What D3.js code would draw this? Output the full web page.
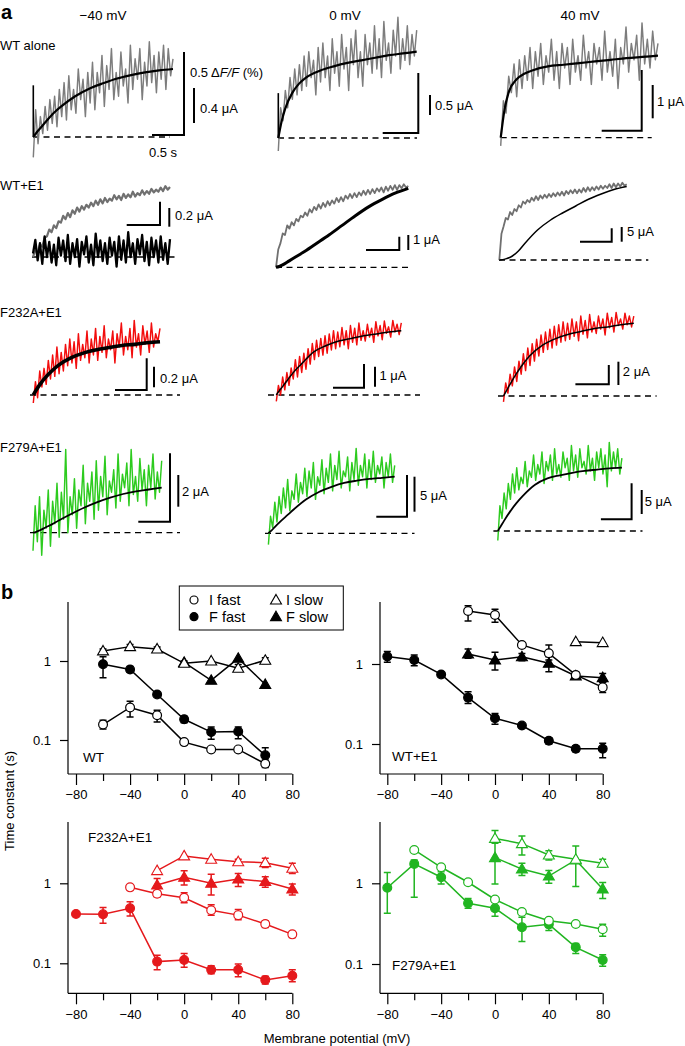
<!DOCTYPE html>
<html><head><meta charset="utf-8">
<script src="https://cdn.jsdelivr.net/npm/d3@7"></script>
<style>
body{margin:0;background:#fff}
text{font-family:'Liberation Sans',Arial,Helvetica,sans-serif;fill:#000}
</style>
</head><body>
<svg id="c" width="685" height="1046"></svg>
<script>
// ================= DATA =================
// ---- part a: traces (normalised: 0 = baseline, 100 = fit end) ----
const voltageTitles = ["−40 mV", "0 mV", "40 mV"];
const rowLabels = ["WT alone", "WT+E1", "F232A+E1", "F279A+E1"];
const fitT = [0,0.025,0.05,0.1,0.15,0.2,0.3,0.4,0.5,0.6,0.7,0.8,0.9,1];

const fitWTm40  = [0,7,13,25,36,45,60,71,79,86,91,95,98,100];
const fitWT0    = [0,20,34,52,63,70,78,83,87,90,93,96,98,100];
const fitWT40   = [0,35,55,71,78,82,87,89,91,93,95,97,98.5,100];
const slowE1_0  = [0,1,3,8,13,18,29,40,52,64,75,84,92,98];
const slowE1_40 = [0,0.5,1.5,5,12,22,40,53,63,72,81,88,94,98];
const fitF232m40 = [0,10,19,34,46,56,70,79,85,89,93,95,98,100];
const fitF232_0  = [0,7,13,26,38,48,67,77,84,88,92,95,98,100];
const fitF232_40 = [0,8,16,31,44,55,70,79,85,89,93,95,98,100];
const fitF279m40 = [0,2,5,12,19,27,42,56,68,78,86,92,96,100];
const fitF279_0  = [0,5,11,22,32,42,60,73,82,89,93,96,98,100];
const fitF279_40 = [0,8,16,31,44,55,73,83,88,92,95,97,99,100];

const grayWTm40 = [-30,40,-10,30,5,45, 10,55,20,60,15,70, 30,80,25,90,40,70, 35,100,55,85,30,95,
  50,110,40,95,65,120, 45,105,70,130,55,95, 60,125,75,100,50,135, 70,115,85,130,55,110,
  75,140,80,120,65,125, 85,135,70,130,90,115];
const grayWT0 = [-15,35,20,55,35,70, 45,80,50,85,55,95, 60,100,70,90,50,105, 65,110,70,95,55,115,
  75,100,60,120,80,105, 55,115,85,125,70,100, 60,120,85,110,75,130, 80,115,70,135,90,110,
  75,125,95,140,80,115, 90,130,85,120,95,125];
const grayWT40 = [-10,45,30,75,55,90, 50,95,60,100,70,110, 60,105,75,115,65,100, 80,120,70,105,60,115,
  85,110,65,120,80,100, 70,125,85,105,65,115, 90,110,70,130,80,105, 75,120,60,110,90,135,
  80,115,95,125,70,140, 90,120,85,130,95,115];
const grayE1m40 = [0,10,6,18,15,28, 30,40,36,46,42,52, 50,60,55,64,58,68, 63,72,66,74,69,76,
  72,79,74,82,76,84, 78,86,80,85,82,90, 84,89,83,92,86,91, 87,95,88,93,90,97,
  91,96,92,99,94,98, 95,101,96,103,98,102];
const blackE1m40 = [5,25,-5,20,-10,30,0,22,-8,18,-12,28,2,24,-6,32,-10,20,0,26,-14,22,4,30,-8,18,-12,34,0,24,
  -6,20,-10,28,2,22,-14,30,-4,24,-8,36,0,20,-10,26,4,32,-6,22,-12,28,0,24,-8,30,-4,20,-10,26];
const grayE1_0 = [0,22,30,42,40,52, 48,56,52,60,57,64, 62,68,64,72,68,75, 71,78,73,80,75,82,
  77,83,79,86,81,87, 82,89,85,91,86,92, 87,93,89,95,90,96, 91,97,92,98,94,99,
  93,100,95,101,96,102, 96,102,98,103,99,101];
const grayE1_40 = [0,35,45,56,54,64, 60,68,65,73,70,78, 75,80,77,83,79,85, 80,86,82,87,83,88,
  84,89,85,90,86,91, 86,92,88,93,89,94, 89,94,90,96,91,97, 92,97,93,98,94,99,
  95,99,96,101,96,102, 97,102,98,103,99,101];
const redF232m40 = [-15,25,-5,45,15,50, 20,65,30,75,35,90, 40,80,45,95,55,105, 60,100,50,115,65,95,
  70,120,60,105,75,125, 65,110,80,130,70,105, 85,120,60,115,90,135, 75,110,85,125,70,140,
  90,115,75,130,95,120, 80,135,90,115,100,125];
const redF232_0 = [-10,15,0,28,8,35, 15,42,25,55,28,60, 35,65,40,72,48,80, 55,85,60,88,62,92,
  65,95,70,100,72,98, 75,105,78,100,72,108, 82,104,78,112,85,100, 84,110,90,104,82,114,
  92,108,86,115,96,106, 90,116,98,110,94,112];
const redF232_40 = [-8,18,4,30,14,40, 20,48,30,58,35,66, 42,72,48,78,55,84, 60,88,64,92,66,96,
  70,98,74,102,76,100, 78,106,82,102,76,110, 85,104,80,112,88,102, 86,110,92,106,84,114,
  94,108,88,115,97,106, 92,114,98,110,95,110];
const greenF279m40 = [-40,60,-20,80,-50,50, 10,95,-30,70,20,110, -10,90,30,185,0,80, 40,120,10,95,60,150,
  20,110,70,135,30,160, 50,125,80,170,40,115, 90,140,55,175,70,130, 100,155,60,185,85,125,
  70,165,95,140,60,150, 100,175,75,135,90,160];
const greenF279_0 = [-20,30,10,55,20,65, 35,80,45,95,40,75, 60,105,55,90,70,115, 65,110,80,125,60,100,
  85,130,70,115,90,140, 75,120,95,145,80,110, 100,135,75,125,95,150, 85,120,100,140,80,130,
  95,145,90,120,105,135, 80,125,100,140,90,120];
const greenF279_40 = [-15,40,20,60,35,75, 50,90,60,100,65,85, 75,110,70,95,85,120, 80,105,90,125,75,110,
  95,120,80,130,90,105, 85,125,100,115,80,135, 95,120,85,130,100,110, 90,135,95,115,80,125,
  100,130,90,120,70,140, 95,125,100,130,90,115];
const stepMarks = [76, 52, null];
const scaleLabels = ["0.4 μA","0.5 μA","1 μA","0.2 μA","1 μA","5 μA","0.2 μA","1 μA","2 μA","2 μA","5 μA","5 μA"];

// ---- part b: time constants (s) vs membrane potential (mV) ----
const voltages = [-80,-60,-40,-20,0,20,40,60,80];
const xTickValues = [-80,-60,-40,-20,0,20,40,60,80];
const xTickLabels = ["−80","","−40","","0","","40","","80"];
const yTickValues = [0.1, 1];
const yTickLabels = ["0.1", "1"];
const seriesNames = ["I fast", "I slow", "F fast", "F slow"];
const panelNames = ["WT", "WT+E1", "F232A+E1", "F279A+E1"];

const wtIFast = [null,0.157,0.258,0.206,0.094,0.076,0.076,0.050,null];
const wtIFastErr = [null,[0.138,0.178],[0.196,0.31],[0.169,0.238],null,null,null,[0.045,0.056],null];
const wtISlow = [null,1.34,1.52,1.42,0.934,1.0,0.81,1.02,null];
const wtISlowErr = [null,[1.25,1.42],[1.42,1.62],[1.33,1.5],[0.87,1.0],null,[0.74,0.9],[0.93,1.1],null];
const wtFFast = [null,0.91,0.78,0.377,0.183,0.126,0.128,0.064,null];
const wtFFastErr = [null,[0.614,1.135],[0.72,0.85],null,[0.165,0.2],[0.102,0.146],[0.104,0.146],[0.052,0.080],null];
const wtFSlow = [null,null,null,null,0.96,0.57,1.08,0.505,null];
const wtFSlowErr = [null,null,null,null,null,null,null,null,null];

const e1IFast = [null,null,null,4.6,4.1,1.73,1.36,0.73,0.51];
const e1IFastErr = [null,null,null,[3.45,5.36],[3.32,4.82],null,[1.12,1.73],[0.66,0.8],[0.44,0.59]];
const e1ISlow = [null,null,null,null,null,null,null,1.9,1.85];
const e1ISlowErr = [null,null,null,null,null,null,null,null,null];
const e1FFast = [1.24,1.12,0.74,0.38,0.21,0.17,0.11,0.087,0.087];
const e1FFastErr = [[1.05,1.43],[0.95,1.3],null,[0.32,0.45],[0.176,0.24],null,[0.1,0.12],[0.08,0.095],[0.0675,0.102]];
const e1FSlow = [null,null,null,1.33,1.12,1.23,1.02,0.71,0.675];
const e1FSlowErr = [null,null,null,[1.18,1.54],[0.84,1.4],[1.1,1.35],[0.80,1.23],null,[0.59,0.76]];

const f232IFast = [null,null,0.89,0.74,0.66,0.46,0.40,0.31,0.23];
const f232IFastErr = [null,null,null,[0.68,0.80],[0.57,0.76],[0.40,0.54],[0.35,0.47],[0.28,0.34],[0.21,0.25]];
const f232ISlow = [null,null,null,1.44,2.2,2.0,1.86,1.81,1.54];
const f232ISlowErr = [null,null,null,null,null,null,[1.7,2.0],[1.58,2.05],[1.33,1.78]];
const f232FFast = [0.414,0.41,0.487,0.105,0.11,0.083,0.083,0.062,0.070];
const f232FFastErr = [null,[0.316,0.50],[0.39,0.59],[0.083,0.126],[0.089,0.133],[0.074,0.093],[0.068,0.098],[0.055,0.069],[0.059,0.083]];
const f232FSlow = [null,null,null,0.95,1.19,1.0,1.13,1.05,0.85];
const f232FSlowErr = [null,null,null,[0.75,1.15],[0.95,1.43],[0.715,1.3],[0.91,1.33],[0.89,1.21],[0.715,0.98]];

const f279IFast = [null,2.59,1.58,1.03,0.63,0.44,0.344,0.313,0.27];
const f279IFastErr = [null,null,null,null,null,null,null,null,[0.22,0.31]];
const f279ISlow = [null,null,null,null,3.6,3.1,2.24,1.98,1.77];
const f279ISlowErr = [null,null,null,null,[3.13,4.5],[2.24,3.86],[1.95,2.54],null,[1.58,1.98]];
const f279FFast = [0.88,1.74,1.19,0.565,0.49,0.285,0.31,0.161,0.112];
const f279FFastErr = [[0.425,1.36],[0.67,1.95],[0.98,1.39],[0.49,0.65],[0.39,0.59],[0.19,0.38],[0.26,0.35],[0.135,0.18],[0.094,0.13]];
const f279FSlow = [null,null,null,null,2.08,1.5,1.23,1.95,0.85];
const f279FSlowErr = [null,null,null,null,[0.98,3.28],[1.25,1.77],[1.0,1.44],[0.91,2.9],[0.65,1.02]];

// ================= DRAWING =================
const svg = d3.select("#c");
const GRAY = "#7d7d7d", GRAY2 = "#707070", RED_T = "#f20d0d", GREEN_T = "#2dcb1f";
const RED = "#e5191c", GREEN = "#21b521";

function txt(x, y, s, opt = {}) {
  return svg.append("text").attr("x", x).attr("y", y).attr("dominant-baseline", "central")
    .attr("font-size", opt.size || 13).attr("text-anchor", opt.anchor || "start")
    .attr("font-weight", opt.weight || "normal").text(s);
}

// panel letters
txt(1, 12, "a", {size: 20, weight: "bold"});
txt(1, 592, "b", {size: 20, weight: "bold"});

// column titles & row labels
const titleX = [103, 345, 580];
voltageTitles.forEach((t, i) => txt(titleX[i], 15, t, {size: 13.5, anchor: "middle"}));
const rowLabelY = [45, 185, 312, 447];
rowLabels.forEach((t, i) => txt(0, rowLabelY[i], t, {size: 13}));

// layout of trace panels (pixel positions only)
const tl = [
  {x0:33.3, x1:173,   yb:137,   yt:69,    d0:33,    d1:170},
  {x0:278.3,x1:416.7, yb:138,   yt:51.7,  d0:278,   d1:417},
  {x0:500.7,x1:658,   yb:137.7, yt:55.7,  d0:500.7, d1:651.7},
  {x0:33,   x1:170,   yb:257,   yt:188.3, d0:32,    d1:177},
  {x0:276,  x1:408.3, yb:267.3, yt:186.7, d0:276,   d1:410},
  {x0:499.3,x1:626.7, yb:260,   yt:185,   d0:499,   d1:648.3},
  {x0:33.3, x1:160,   yb:395,   yt:341.7, d0:30,    d1:180},
  {x0:276.3,x1:401.3, yb:395,   yt:330.7, d0:268,   d1:420},
  {x0:503.5,x1:633.8, yb:396,   yt:323.3, d0:498,   d1:656.6},
  {x0:33,   x1:161.7, yb:532.7, yt:487.7, d0:30,    d1:180},
  {x0:268.4,x1:394.7, yb:533.3, yt:476.7, d0:265,   d1:414.5},
  {x0:497.8,x1:621.9, yb:531,   yt:467.7, d0:493.4, d1:642.5}
];

// which series are drawn in which trace panel
const traceSeries = [
  [{v:grayWTm40, c:GRAY, noisy:true}, {v:fitWTm40, c:"#000", w:2.2}],
  [{v:grayWT0, c:GRAY, noisy:true}, {v:fitWT0, c:"#000", w:2.2}],
  [{v:grayWT40, c:GRAY, noisy:true}, {v:fitWT40, c:"#000", w:2.2}],
  [{v:grayE1m40, c:GRAY2, noisy:true, w:2.2}, {v:blackE1m40, c:"#000", noisy:true, w:2.3}],
  [{v:grayE1_0, c:GRAY2, noisy:true, w:1.8}, {v:slowE1_0, c:"#000", w:3}],
  [{v:grayE1_40, c:GRAY2, noisy:true, w:1.8}, {v:slowE1_40, c:"#000", w:1.5}],
  [{v:redF232m40, c:RED_T, noisy:true}, {v:fitF232m40, c:"#000", w:3.6}],
  [{v:redF232_0, c:RED_T, noisy:true}, {v:fitF232_0, c:"#000", w:1.5}],
  [{v:redF232_40, c:RED_T, noisy:true}, {v:fitF232_40, c:"#000", w:1.5}],
  [{v:greenF279m40, c:GREEN_T, noisy:true}, {v:fitF279m40, c:"#000", w:1.8}],
  [{v:greenF279_0, c:GREEN_T, noisy:true}, {v:fitF279_0, c:"#000", w:1.8}],
  [{v:greenF279_40, c:GREEN_T, noisy:true}, {v:fitF279_40, c:"#000", w:1.8}]
];

tl.forEach((p, k) => {
  const xs = d3.scaleLinear().domain([0, 1]).range([p.x0, p.x1]);
  const ys = d3.scaleLinear().domain([0, 100]).range([p.yb, p.yt]);
  const g = svg.append("g");
  g.append("line").attr("x1", p.d0).attr("x2", p.d1).attr("y1", ys(0)).attr("y2", ys(0))
    .attr("stroke", "#000").attr("stroke-width", 1.3).attr("stroke-dasharray", "6,4.5");
  traceSeries[k].forEach(s => {
    let pts;
    if (s.noisy) pts = s.v.map((v, i) => [xs(i / (s.v.length - 1)), ys(v)]);
    else pts = s.v.map((v, i) => [xs(fitT[i]), ys(v)]);
    const line = d3.line().curve(s.noisy ? d3.curveLinear : d3.curveMonotoneX);
    g.append("path").attr("d", line(pts)).attr("fill", "none").attr("stroke", s.c)
      .attr("stroke-width", s.w || 1.45).attr("stroke-linejoin", "round");
  });
  if (k < 3 && stepMarks[k] != null) {
    g.append("line").attr("x1", xs(0)).attr("x2", xs(0)).attr("y1", ys(0)).attr("y2", ys(stepMarks[k]))
      .attr("stroke", "#000").attr("stroke-width", 1.6);
  }
});

// scale bars (L-shape + current bar) – positions only
const bars = [
  {lx:184,   ly0:52,    ly1:135,   hx0:152,   cx:194,   cy0:88,    cy1:123,   tx:200,   ty:108},
  {lx:418.3, ly0:73,    ly1:133,   hx0:382.7, cx:430,   cy0:95,    cy1:115,   tx:435,   ty:105},
  {lx:641.7, ly0:70,    ly1:130.7, hx0:601.7, cx:652.7, cy0:85,    cy1:118.3, tx:657,   ty:101.7},
  {lx:160,   ly0:201.7, ly1:225,   hx0:126.7, cx:169.3, cy0:208,   cy1:226.7, tx:175,   ty:215},
  {lx:399.3, ly0:236.7, ly1:250,   hx0:366,   cx:408.3, cy0:235,   cy1:250,   tx:413,   ty:239},
  {lx:611.7, ly0:228.3, ly1:241.7, hx0:580,   cx:621.7, cy0:227,   cy1:241.7, tx:627,   ty:231.7},
  {lx:146.7, ly0:358.3, ly1:390,   hx0:115,   cx:154,   cy0:366.7, cy1:387.3, tx:160,   ty:378.3},
  {lx:364,   ly0:364,   ly1:387.7, hx0:333,   cx:375,   cy0:366.7, cy1:386.7, tx:379.4, ty:375},
  {lx:608.8, ly0:365,   ly1:384.3, hx0:575.4, cx:618.4, cy0:361.7, cy1:385,   tx:622.8, ty:371},
  {lx:170,   ly0:453.3, ly1:521.7, hx0:138.3, cx:178.3, cy0:475,   cy1:506.7, tx:182,   ty:491.7},
  {lx:407,   ly0:475,   ly1:516.7, hx0:376.3, cx:414.5, cy0:476.7, cy1:511.7, tx:420,   ty:495},
  {lx:631.6, ly0:483.3, ly1:519.3, hx0:600.9, cx:641.7, cy0:490,   cy1:514,   tx:644.7, ty:501.7}
];
bars.forEach((b, i) => {
  svg.append("path").attr("d", `M${b.hx0},${b.ly1}H${b.lx}V${b.ly0}`).attr("fill", "none")
    .attr("stroke", "#000").attr("stroke-width", 2);
  svg.append("line").attr("x1", b.cx).attr("x2", b.cx).attr("y1", b.cy0).attr("y2", b.cy1)
    .attr("stroke", "#000").attr("stroke-width", 2);
  txt(b.tx, b.ty, scaleLabels[i], {size: 13});
});
const fl = svg.append("text").attr("x", 190).attr("y", 72).attr("dominant-baseline", "central").attr("font-size", 13);
fl.append("tspan").text("0.5 Δ");
fl.append("tspan").attr("font-style", "italic").text("F/F");
fl.append("tspan").text(" (%)");
txt(163, 152, "0.5 s", {size: 13, anchor: "middle"});

// ---------------- part b ----------------
const panelsB = [
  {ax:68,  x0:76,    x1:292.3, yTop:602, yBot:774,   y1:661,   y01:740,   lx:83,  ly:757, color:"#000",
   s:[[wtIFast,wtIFastErr],[wtISlow,wtISlowErr],[wtFFast,wtFFastErr],[wtFSlow,wtFSlowErr]]},
  {ax:380, x0:387.3, x1:602.7, yTop:602, yBot:774,   y1:664,   y01:744,   lx:392, ly:756, color:"#000",
   s:[[e1IFast,e1IFastErr],[e1ISlow,e1ISlowErr],[e1FFast,e1FFastErr],[e1FSlow,e1FSlowErr]]},
  {ax:68,  x0:76,    x1:292.3, yTop:822, yBot:993.3, y1:883.3, y01:963.3, lx:88,  ly:837, color:RED,
   s:[[f232IFast,f232IFastErr],[f232ISlow,f232ISlowErr],[f232FFast,f232FFastErr],[f232FSlow,f232FSlowErr]]},
  {ax:380, x0:387.3, x1:602.7, yTop:822, yBot:993.3, y1:883.3, y01:964,   lx:392, ly:965, color:GREEN,
   s:[[f279IFast,f279IFastErr],[f279ISlow,f279ISlowErr],[f279FFast,f279FFastErr],[f279FSlow,f279FSlowErr]]}
];
const sStyle = [{shape:"circle", filled:false},{shape:"triangle", filled:false},{shape:"circle", filled:true},{shape:"triangle", filled:true}];
const triPath = d3.symbol().type(d3.symbolTriangle).size(52)();

function marker(g, x, y, st, color, r) {
  if (st.shape === "circle") {
    g.append("circle").attr("cx", x).attr("cy", y).attr("r", r || 4.4)
      .attr("fill", st.filled ? color : "#fff").attr("stroke", color).attr("stroke-width", 1.2);
  } else {
    g.append("path").attr("d", triPath).attr("transform", `translate(${x},${y + 0.8})`)
      .attr("fill", st.filled ? color : "#fff").attr("stroke", color).attr("stroke-width", 1.1);
  }
}

panelsB.forEach((p, pi) => {
  const x = d3.scaleLinear().domain([-80, 80]).range([p.x0, p.x1]);
  const y = d3.scaleLog().domain([0.1, 1]).range([p.y01, p.y1]);
  const g = svg.append("g");
  g.append("line").attr("x1", p.ax).attr("x2", p.ax).attr("y1", p.yTop).attr("y2", p.yBot).attr("stroke", "#000").attr("stroke-width", 1.2);
  g.append("line").attr("x1", p.ax).attr("x2", p.x1).attr("y1", p.yBot).attr("y2", p.yBot).attr("stroke", "#000").attr("stroke-width", 1.2);
  const xa = g.append("g").attr("transform", `translate(0,${p.yBot})`)
    .call(d3.axisBottom(x).tickValues(xTickValues).tickFormat((d, i) => xTickLabels[i]).tickSizeOuter(0).tickSize(11));
  xa.select(".domain").remove();
  xa.selectAll(".tick line").attr("stroke-width", 1.2).attr("y2", (d, i) => xTickLabels[i] ? 11 : 7);
  xa.selectAll(".tick text").attr("y", 16).attr("font-size", 13).attr("font-family", null).attr("fill", "#000");
  const ya = g.append("g").attr("transform", `translate(${p.ax},0)`)
    .call(d3.axisLeft(y).tickValues(yTickValues).tickFormat((d, i) => yTickLabels[i]).tickSize(8).tickPadding(9));
  ya.select(".domain").remove();
  ya.selectAll(".tick line").attr("stroke-width", 1.2);
  ya.selectAll(".tick text").attr("font-size", 13).attr("font-family", null).attr("fill", "#000");
  txt(p.lx, p.ly, panelNames[pi], {size: 13.5});

  const line = d3.line().defined(d => d[1] != null).x(d => x(d[0])).y(d => y(d[1]));
  p.s.forEach(([vals]) => {
    g.append("path").attr("d", line(voltages.map((v, i) => [v, vals[i]])))
      .attr("fill", "none").attr("stroke", p.color).attr("stroke-width", 1.5);
  });
  p.s.forEach(([vals, errs]) => {
    errs.forEach((e, i) => {
      if (!e || vals[i] == null) return;
      const cx = x(voltages[i]);
      g.append("path").attr("d", `M${cx - 3.5},${y(e[1])}H${cx + 3.5}M${cx},${y(e[1])}V${y(e[0])}M${cx - 3.5},${y(e[0])}H${cx + 3.5}`)
        .attr("fill", "none").attr("stroke", p.color).attr("stroke-width", 1.5);
    });
  });
  [2, 3, 0, 1].forEach(si => {
    const vals = p.s[si][0];
    vals.forEach((v, i) => { if (v != null) marker(g, x(voltages[i]), y(v), sStyle[si], p.color); });
  });
});

// legend
const lg = svg.append("g");
lg.append("rect").attr("x", 179.3).attr("y", 586).attr("width", 164).attr("height", 44)
  .attr("fill", "#fff").attr("stroke", "#000").attr("stroke-width", 1);
const legPos = [{x:194, y:600},{x:276, y:600},{x:194, y:616.7},{x:276, y:616.7}];
seriesNames.forEach((n, i) => {
  marker(lg, legPos[i].x, legPos[i].y, sStyle[i], "#000", 4);
  txt(legPos[i].x + (i % 2 ? 10 : 15), legPos[i].y, n, {size: 14.5});
});

// axis titles
svg.append("text").attr("transform", "translate(9,801) rotate(-90)").attr("text-anchor", "middle")
  .attr("dominant-baseline", "central").attr("font-size", 13).text("Time constant (s)");
txt(337, 1038, "Membrane potential (mV)", {size: 13, anchor: "middle"});
</script>
</body></html>
